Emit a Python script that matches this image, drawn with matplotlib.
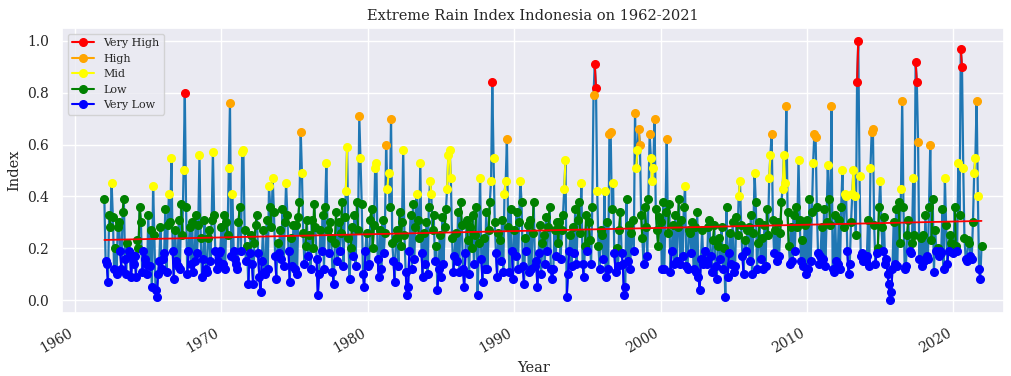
import numpy as np
import pandas as pd
import matplotlib
matplotlib.use("Agg")
import matplotlib.pyplot as plt
import matplotlib.dates as mdates
import seaborn as sns

# monthly index values, one row of 12 months per year (1962-2021)
idx_1960s = [
    0.39, 0.15, 0.14, 0.07, 0.33, 0.28, 0.45, 0.32, 0.12, 0.20, 0.10, 0.28,
    0.30, 0.19, 0.12, 0.34, 0.39, 0.16, 0.10, 0.22, 0.19, 0.18, 0.09, 0.17,
    0.14, 0.17, 0.09, 0.23, 0.20, 0.36, 0.30, 0.11, 0.19, 0.16, 0.14, 0.10,
    0.33, 0.13, 0.27, 0.05, 0.44, 0.25, 0.04, 0.01, 0.10, 0.15, 0.28, 0.12,
    0.16, 0.18, 0.35, 0.11, 0.29, 0.41, 0.30, 0.55, 0.19, 0.08, 0.27, 0.15,
    0.13, 0.31, 0.12, 0.37, 0.25, 0.50, 0.80, 0.36, 0.10, 0.19, 0.28, 0.14,
    0.30, 0.11, 0.15, 0.33, 0.18, 0.29, 0.56, 0.24, 0.09, 0.16, 0.31, 0.12,
    0.11, 0.24, 0.27, 0.15, 0.31, 0.57, 0.33, 0.19, 0.12, 0.15, 0.18, 0.19,
]
idx_1970s = [
    0.28, 0.14, 0.33, 0.12, 0.30, 0.25, 0.51, 0.76, 0.17, 0.41, 0.19, 0.16,
    0.14, 0.12, 0.30, 0.36, 0.19, 0.57, 0.58, 0.27, 0.15, 0.21, 0.06, 0.18,
    0.25, 0.14, 0.06, 0.22, 0.29, 0.33, 0.18, 0.09, 0.03, 0.15, 0.27, 0.11,
    0.10, 0.31, 0.12, 0.44, 0.36, 0.28, 0.47, 0.34, 0.17, 0.08, 0.22, 0.18,
    0.27, 0.16, 0.35, 0.13, 0.30, 0.45, 0.33, 0.19, 0.07, 0.24, 0.13, 0.29,
    0.12, 0.29, 0.10, 0.32, 0.38, 0.65, 0.49, 0.26, 0.14, 0.21, 0.31, 0.17,
    0.25, 0.12, 0.31, 0.20, 0.37, 0.28, 0.16, 0.02, 0.10, 0.27, 0.19, 0.33,
    0.12, 0.36, 0.53, 0.27, 0.18, 0.30, 0.24, 0.11, 0.06, 0.22, 0.34, 0.15,
    0.30, 0.19, 0.26, 0.38, 0.13, 0.32, 0.42, 0.59, 0.24, 0.08, 0.20, 0.28,
    0.17, 0.33, 0.13, 0.38, 0.27, 0.71, 0.55, 0.37, 0.10, 0.05, 0.19, 0.26,
]
idx_1980s = [
    0.13, 0.14, 0.31, 0.35, 0.20, 0.29, 0.51, 0.53, 0.16, 0.09, 0.27, 0.12,
    0.31, 0.18, 0.26, 0.60, 0.43, 0.49, 0.36, 0.70, 0.22, 0.15, 0.07, 0.24,
    0.27, 0.13, 0.34, 0.21, 0.30, 0.58, 0.25, 0.11, 0.02, 0.05, 0.19, 0.33,
    0.12, 0.37, 0.16, 0.28, 0.41, 0.31, 0.24, 0.53, 0.18, 0.09, 0.26, 0.14,
    0.30, 0.10, 0.36, 0.46, 0.41, 0.27, 0.33, 0.15, 0.21, 0.04, 0.12, 0.25,
    0.09, 0.32, 0.14, 0.28, 0.35, 0.43, 0.56, 0.58, 0.47, 0.24, 0.11, 0.17,
    0.26, 0.15, 0.34, 0.11, 0.38, 0.29, 0.12, 0.05, 0.18, 0.31, 0.23, 0.10,
    0.28, 0.20, 0.33, 0.14, 0.25, 0.36, 0.02, 0.22, 0.47, 0.16, 0.07, 0.24,
    0.12, 0.34, 0.12, 0.27, 0.38, 0.46, 0.84, 0.55, 0.30, 0.18, 0.09, 0.26,
    0.23, 0.15, 0.31, 0.11, 0.41, 0.46, 0.62, 0.28, 0.11, 0.35, 0.19, 0.08,
]
idx_1990s = [
    0.27, 0.17, 0.34, 0.12, 0.30, 0.46, 0.38, 0.13, 0.06, 0.24, 0.19, 0.29,
    0.11, 0.31, 0.12, 0.26, 0.38, 0.13, 0.15, 0.05, 0.18, 0.29, 0.10, 0.22,
    0.25, 0.14, 0.32, 0.19, 0.28, 0.36, 0.12, 0.08, 0.12, 0.27, 0.17, 0.30,
    0.22, 0.30, 0.16, 0.27, 0.33, 0.43, 0.54, 0.01, 0.10, 0.19, 0.25, 0.13,
    0.28, 0.18, 0.35, 0.14, 0.31, 0.38, 0.26, 0.45, 0.14, 0.09, 0.21, 0.33,
    0.19, 0.30, 0.23, 0.14, 0.36, 0.79, 0.91, 0.82, 0.42, 0.21, 0.12, 0.27,
    0.25, 0.16, 0.42, 0.09, 0.30, 0.12, 0.64, 0.65, 0.35, 0.45, 0.18, 0.11,
    0.20, 0.13, 0.27, 0.34, 0.18, 0.14, 0.02, 0.05, 0.39, 0.15, 0.29, 0.12,
    0.26, 0.31, 0.19, 0.72, 0.51, 0.58, 0.66, 0.60, 0.33, 0.24, 0.14, 0.36,
    0.28, 0.17, 0.39, 0.64, 0.55, 0.46, 0.51, 0.70, 0.35, 0.27, 0.21, 0.32,
]
idx_2000s = [
    0.30, 0.12, 0.38, 0.12, 0.34, 0.62, 0.26, 0.37, 0.11, 0.19, 0.29, 0.14,
    0.33, 0.15, 0.28, 0.39, 0.14, 0.31, 0.17, 0.36, 0.44, 0.13, 0.12, 0.27,
    0.26, 0.18, 0.30, 0.12, 0.28, 0.11, 0.34, 0.09, 0.04, 0.16, 0.27, 0.14,
    0.19, 0.15, 0.14, 0.28, 0.31, 0.17, 0.11, 0.23, 0.29, 0.13, 0.08, 0.21,
    0.24, 0.16, 0.28, 0.12, 0.20, 0.01, 0.36, 0.09, 0.18, 0.26, 0.14, 0.30,
    0.11, 0.13, 0.32, 0.25, 0.40, 0.46, 0.29, 0.17, 0.10, 0.23, 0.19, 0.27,
    0.28, 0.15, 0.33, 0.10, 0.26, 0.49, 0.38, 0.12, 0.22, 0.30, 0.16, 0.24,
    0.12, 0.29, 0.13, 0.35, 0.25, 0.47, 0.56, 0.64, 0.31, 0.18, 0.27, 0.15,
    0.30, 0.17, 0.26, 0.38, 0.43, 0.56, 0.45, 0.75, 0.34, 0.21, 0.14, 0.28,
    0.15, 0.33, 0.19, 0.36, 0.28, 0.54, 0.31, 0.15, 0.23, 0.13, 0.29, 0.10,
]
idx_2010s = [
    0.31, 0.12, 0.39, 0.15, 0.34, 0.53, 0.64, 0.63, 0.36, 0.18, 0.14, 0.17,
    0.28, 0.16, 0.35, 0.13, 0.30, 0.52, 0.39, 0.29, 0.75, 0.12, 0.11, 0.33,
    0.15, 0.14, 0.31, 0.12, 0.36, 0.50, 0.28, 0.41, 0.40, 0.19, 0.10, 0.14,
    0.30, 0.41, 0.50, 0.40, 0.25, 0.84, 1.00, 0.48, 0.17, 0.18, 0.15, 0.16,
    0.15, 0.17, 0.31, 0.13, 0.51, 0.65, 0.66, 0.29, 0.14, 0.18, 0.20, 0.36,
    0.46, 0.28, 0.19, 0.32, 0.14, 0.16, 0.10, 0.06, 0.00, 0.03, 0.12, 0.30,
    0.14, 0.35, 0.13, 0.38, 0.22, 0.43, 0.77, 0.36, 0.12, 0.13, 0.25, 0.31,
    0.19, 0.18, 0.22, 0.47, 0.25, 0.92, 0.84, 0.61, 0.16, 0.24, 0.13, 0.25,
    0.15, 0.33, 0.17, 0.16, 0.36, 0.60, 0.23, 0.39, 0.11, 0.27, 0.19, 0.20,
    0.17, 0.19, 0.18, 0.35, 0.12, 0.47, 0.29, 0.14, 0.19, 0.25, 0.22, 0.20,
]
idx_2020s = [
    0.18, 0.36, 0.21, 0.19, 0.53, 0.33, 0.97, 0.90, 0.51, 0.24, 0.16, 0.15,
    0.23, 0.22, 0.17, 0.16, 0.30, 0.49, 0.55, 0.77, 0.40, 0.12, 0.08, 0.21,
]

levels = ['Very High', 'High', 'Mid', 'Low', 'Very Low']
level_colors = ['red', 'orange', 'yellow', 'green', 'blue']
level_bounds = [(0.8, 1.01), (0.6, 0.8), (0.4, 0.6), (0.2, 0.4), (-0.01, 0.2)]

values = np.array(idx_1960s + idx_1970s + idx_1980s + idx_1990s
                  + idx_2000s + idx_2010s + idx_2020s)
df = pd.DataFrame({'date': pd.date_range('1962-01-01', periods=len(values), freq='MS'),
                   'index': values})

sns.set_theme(style='darkgrid')
plt.rcParams['font.family'] = ['DejaVu Serif']

fig = plt.figure(figsize=(10.12, 3.76), dpi=100)
ax = fig.add_axes([0.0613, 0.1676, 0.931, 0.758])

ax.plot(df['date'], df['index'], color='#1f77b4', lw=1.6)
for lab, col, (lo, hi) in zip(levels, level_colors, level_bounds):
    y = df['index'].where((df['index'] >= lo) & (df['index'] < hi))
    ax.plot(df['date'], y, marker='o', ms=5.5, lw=1.5, color=col, label=lab)

# linear trend over the whole period
xnum = mdates.date2num(df['date'])
coef = np.polyfit(xnum, df['index'], 1)
ax.plot(df['date'], np.polyval(coef, xnum), color='red', lw=1.3)

ax.set_xlim(mdates.datestr2num('1959-02-10'), mdates.datestr2num('2023-06-20'))
ax.set_ylim(-0.05, 1.05)
ax.xaxis.set_major_locator(mdates.YearLocator(10))
ax.xaxis.set_major_formatter(mdates.DateFormatter('%Y'))
ax.tick_params(labelsize=10)
for t in ax.get_xticklabels():
    t.set_rotation(30)
    t.set_ha('right')

ax.set_title('Extreme Rain Index Indonesia on 1962-2021', fontsize=10.5)
ax.set_xlabel('Year', fontsize=10.5)
ax.set_ylabel('Index', fontsize=10.5)
ax.legend(loc='upper left', fontsize=8)

plt.savefig('out.png', dpi=100)
